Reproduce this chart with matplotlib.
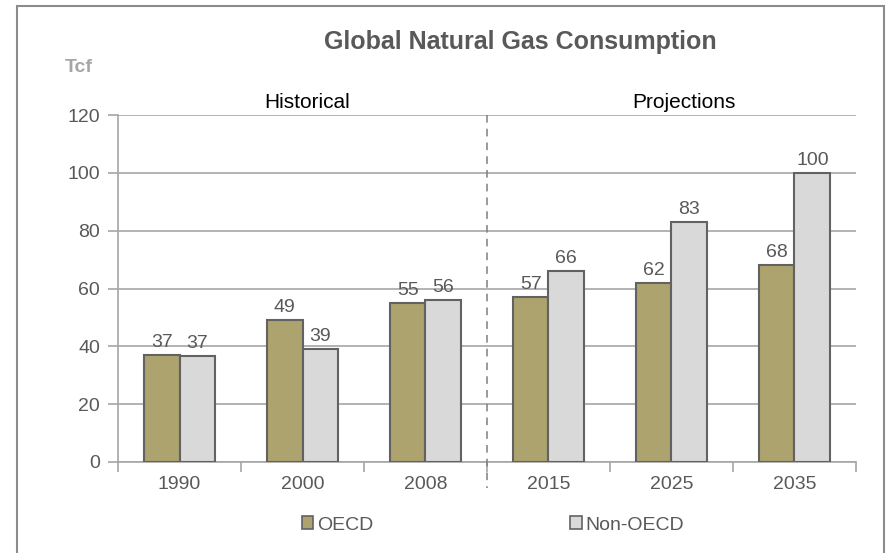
import numpy as np
import matplotlib.pyplot as plt
from matplotlib.patches import Rectangle, Patch

plt.rcParams["font.family"] = ["Liberation Sans", "DejaVu Sans"]

years = ["1990", "2000", "2008", "2015", "2025", "2035"]
oecd = [37, 49, 55, 57, 62, 68]
non_oecd = [36.6, 39, 56, 66, 83, 100]

TXT = "#595959"
GRID = "#a6a6a6"
OECD_C = "#ada36f"
NON_C = "#d9d9d9"
EDGE = "#626262"

fig = plt.figure(figsize=(8.92, 5.53), dpi=100)
ax = fig.add_axes([118 / 892, 1 - 462 / 553, (856 - 118) / 892, (462 - 115) / 553])

x = np.arange(len(years))
w = 0.29
b1 = ax.bar(x - w / 2, oecd, w, color=OECD_C, edgecolor=EDGE, linewidth=1.5, zorder=3)
b2 = ax.bar(x + w / 2, non_oecd, w, color=NON_C, edgecolor=EDGE, linewidth=1.5, zorder=3)
ax.bar_label(b1, labels=[f"{v:.0f}" for v in oecd], padding=3, fontsize=14, color=TXT)
ax.bar_label(b2, labels=[f"{v:.0f}" for v in non_oecd], padding=3, fontsize=14, color=TXT)

ax.set_xlim(-0.5, len(years) - 0.5)
ax.set_ylim(0, 120)
ax.set_yticks(range(0, 121, 20))
ax.yaxis.grid(True, color=GRID, linewidth=1.2, zorder=0)
ax.set_axisbelow(True)

ax.set_xticks(np.arange(-0.5, len(years), 1.0))
ax.set_xticklabels([])
ax.set_xticks(x, minor=True)
ax.set_xticklabels(years, minor=True)
ax.tick_params(axis="x", which="major", length=7, color=GRID, width=1.2, direction="out")
ax.tick_params(axis="x", which="minor", length=0, pad=10, labelsize=14, labelcolor=TXT)
ax.tick_params(axis="y", length=7, color=GRID, width=1.2, labelsize=14, labelcolor=TXT, pad=6)

for s in ["top", "right"]:
    ax.spines[s].set_visible(False)
for s in ["left", "bottom"]:
    ax.spines[s].set_color(GRID)
    ax.spines[s].set_linewidth(1.2)

# divider between historical and projections
ax.plot([2.5, 2.5], [1.0, -0.075], transform=ax.get_xaxis_transform(),
        color="#7f7f7f", linestyle=(0, (5, 4)), linewidth=1.1, clip_on=False, zorder=4)

fig.text(520 / 892, 1 - 42 / 553, "Global Natural Gas Consumption", ha="center", va="center",
         fontsize=18, fontweight="bold", color=TXT)
fig.text(79 / 892, 1 - 68 / 553, "Tcf", ha="center", va="center",
         fontsize=14, fontweight="bold", color="#a6a6a6")
fig.text(307 / 892, 1 - 102 / 553, "Historical", ha="center", va="center", fontsize=15, color="black")
fig.text(684 / 892, 1 - 102 / 553, "Projections", ha="center", va="center", fontsize=15, color="black")

handles = [Patch(facecolor=OECD_C, edgecolor=EDGE, linewidth=1.2),
           Patch(facecolor=NON_C, edgecolor=EDGE, linewidth=1.2)]
fig.legend(handles, ["OECD", "Non-OECD"], loc="center", bbox_to_anchor=(493 / 892, 1 - 525 / 553),
           ncol=2, frameon=False, fontsize=14, labelcolor=TXT, handlelength=0.6, handleheight=0.6,
           handletextpad=0.2, columnspacing=10.1)

fig.patches.append(Rectangle((17 / 892, -0.1), (884 - 17) / 892, 1.1 - 6 / 553,
                             transform=fig.transFigure, fill=False, edgecolor="#8c8c8c",
                             linewidth=1.5))

fig.savefig("out.png", dpi=100)
